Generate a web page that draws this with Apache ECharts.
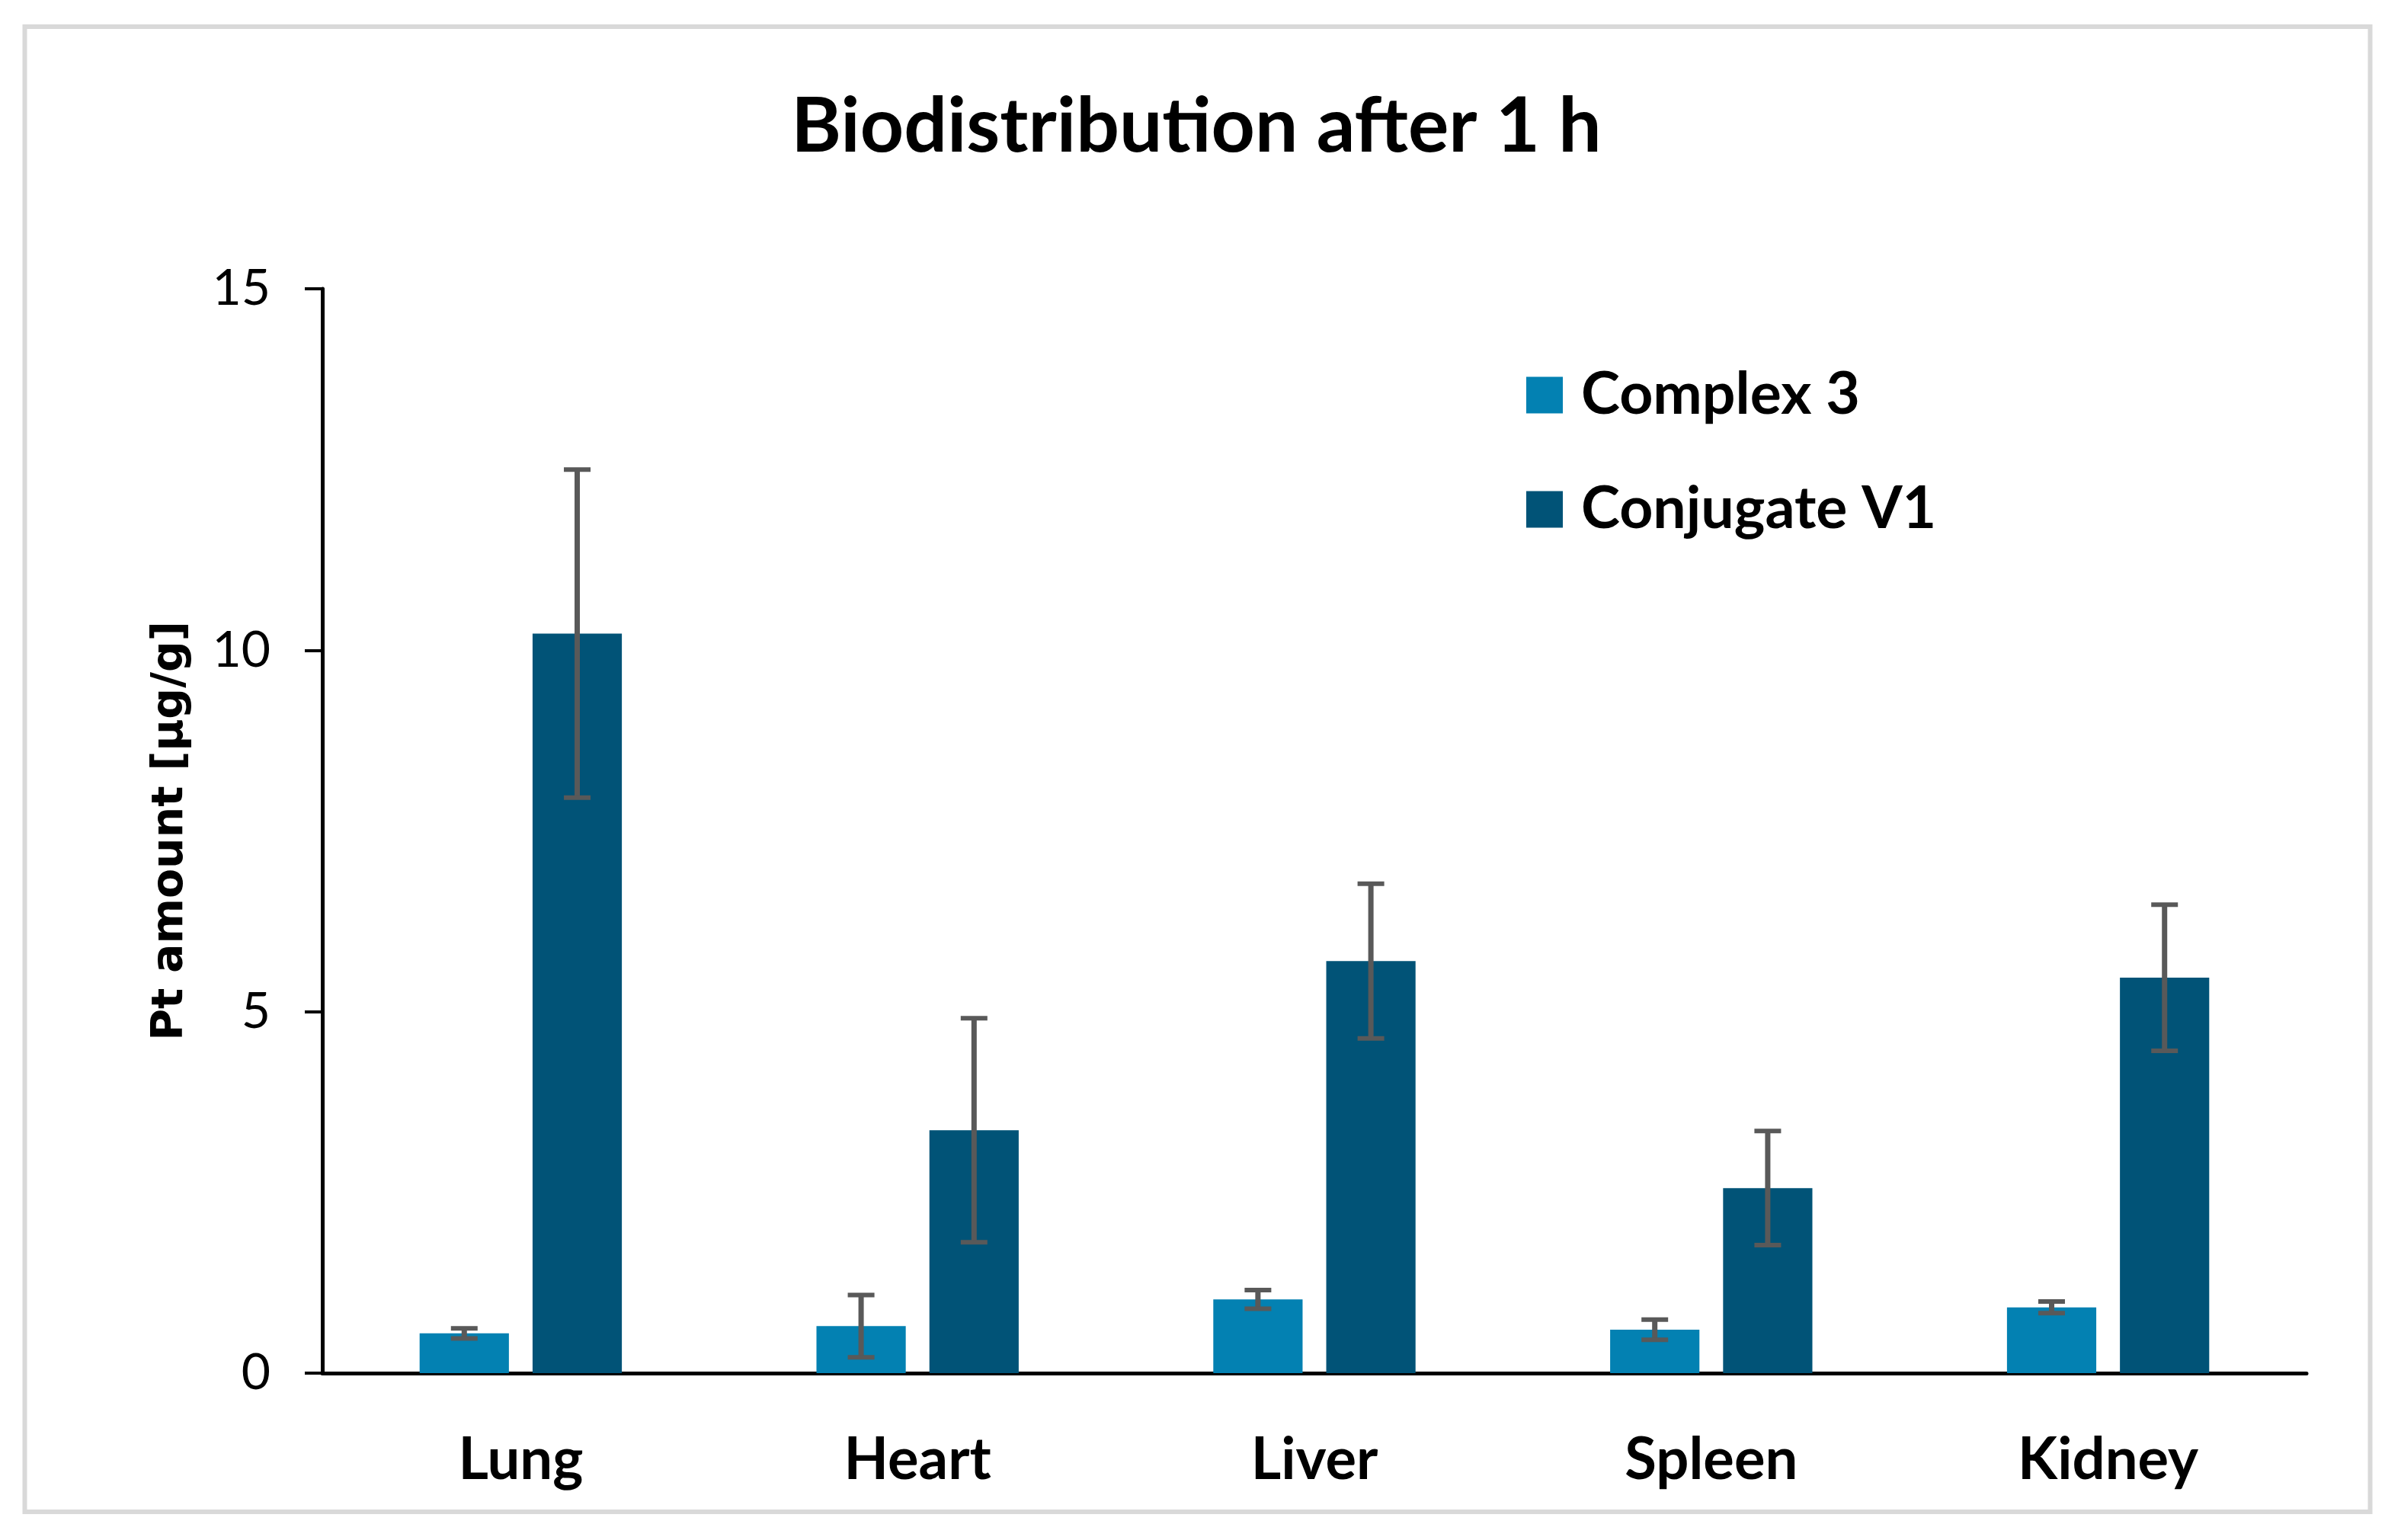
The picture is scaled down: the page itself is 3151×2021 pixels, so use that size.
<!DOCTYPE html>
<html>
<head>
<meta charset="utf-8">
<script src="https://cdn.jsdelivr.net/npm/echarts@6/dist/echarts.min.js"></script>
<style>html,body{margin:0;padding:0;background:#fff;}#c{width:3151px;height:2021px;}</style>
</head>
<body>
<div id="c"></div>
<script>
const categories = ['Lung', 'Heart', 'Liver', 'Spleen', 'Kidney'];
const seriesNames = ['Complex 3', 'Conjugate V1'];
const complex3 = [0.55, 0.65, 1.02, 0.60, 0.91];
const complex3Err = [0.07, 0.43, 0.13, 0.14, 0.08];
const conjugateV1 = [10.23, 3.36, 5.70, 2.56, 5.47];
const conjugateV1Err = [2.27, 1.55, 1.07, 0.79, 1.01];
const yTicks = [0, 5, 10, 15];

const colors = ['#0381B2', '#015377'];
const BAR_W = 0.225;   // fraction of band
const BAR_GAP = 0.265; // fraction of bar width

const chart = echarts.init(document.getElementById('c'), null, {renderer: 'canvas'});

function errorSeries(idx, vals, errs) {
  return {
    type: 'custom',
    name: seriesNames[idx] + ' error',
    z: 10,
    silent: true,
    data: vals.map((v, i) => [i, v - errs[i], v + errs[i]]),
    encode: {x: 0, y: [1, 2]},
    renderItem: function (params, api) {
      const xi = api.value(0);
      const band = api.size([1, 0])[0];
      const w = band * BAR_W;
      const total = 2 * w + BAR_GAP * w;
      const lo = api.coord([xi, api.value(1)]);
      const hi = api.coord([xi, api.value(2)]);
      const cx = lo[0] - total / 2 + w / 2 + idx * (w + BAR_GAP * w);
      const cap = 17.5;
      const st = {stroke: '#595959', lineWidth: 7};
      return {
        type: 'group',
        children: [
          {type: 'line', shape: {x1: cx, y1: lo[1], x2: cx, y2: hi[1]}, style: st},
          {type: 'line', shape: {x1: cx - cap, y1: lo[1], x2: cx + cap, y2: lo[1]}, style: {stroke: '#595959', lineWidth: 6}},
          {type: 'line', shape: {x1: cx - cap, y1: hi[1], x2: cx + cap, y2: hi[1]}, style: {stroke: '#595959', lineWidth: 6}}
        ]
      };
    }
  };
}

chart.setOption({
  backgroundColor: '#ffffff',
  animation: false,
  title: {
    text: 'Biodistribution after 1 h',
    left: 1565,
    textAlign: 'center',
    top: 112,
    textStyle: {fontFamily: 'Lato', fontWeight: 'bold', fontSize: 100, color: '#000'}
  },
  legend: {
    orient: 'vertical',
    left: 1998,
    top: 475,
    icon: 'rect',
    itemWidth: 48,
    itemHeight: 48,
    itemGap: 73,
    data: seriesNames,
    textStyle: {fontFamily: 'Lato', fontWeight: 'bold', fontSize: 77, color: '#000', padding: [0, 0, 0, 19]}
  },
  graphic: [{
    type: 'rect',
    shape: {x: 32.5, y: 35, width: 3078, height: 1949},
    style: {fill: 'none', stroke: '#D9D9D9', lineWidth: 6},
    z: -1
  }],
  grid: {left: 423, right: 124, top: 379, bottom: 219, containLabel: false},
  xAxis: {
    type: 'category',
    data: categories,
    axisLine: {show: true, lineStyle: {color: '#000', width: 5}},
    axisTick: {show: false},
    axisLabel: {margin: 76, fontFamily: 'Lato', fontWeight: 'bold', fontSize: 76, color: '#000'},
    splitLine: {show: false}
  },
  yAxis: {
    type: 'value',
    min: yTicks[0],
    max: yTicks[yTicks.length - 1],
    interval: 5,
    name: 'Pt amount [µg/g]',
    nameLocation: 'middle',
    nameGap: 170,
    nameTextStyle: {fontFamily: 'DejaVu Sans', fontWeight: 'bold', fontSize: 57, color: '#000'},
    axisLine: {show: true, lineStyle: {color: '#000', width: 5}},
    axisTick: {show: true, length: 23, lineStyle: {color: '#000', width: 4}},
    axisLabel: {margin: 68, fontFamily: 'Lato', fontSize: 66, color: '#000'},
    splitLine: {show: false}
  },
  series: [
    {type: 'bar', name: seriesNames[0], data: complex3, barWidth: (BAR_W * 100) + '%', barGap: (BAR_GAP * 100) + '%', itemStyle: {color: colors[0]}},
    {type: 'bar', name: seriesNames[1], data: conjugateV1, barWidth: (BAR_W * 100) + '%', barGap: (BAR_GAP * 100) + '%', itemStyle: {color: colors[1]}},
    errorSeries(0, complex3, complex3Err),
    errorSeries(1, conjugateV1, conjugateV1Err)
  ]
});
</script>
</body>
</html>
